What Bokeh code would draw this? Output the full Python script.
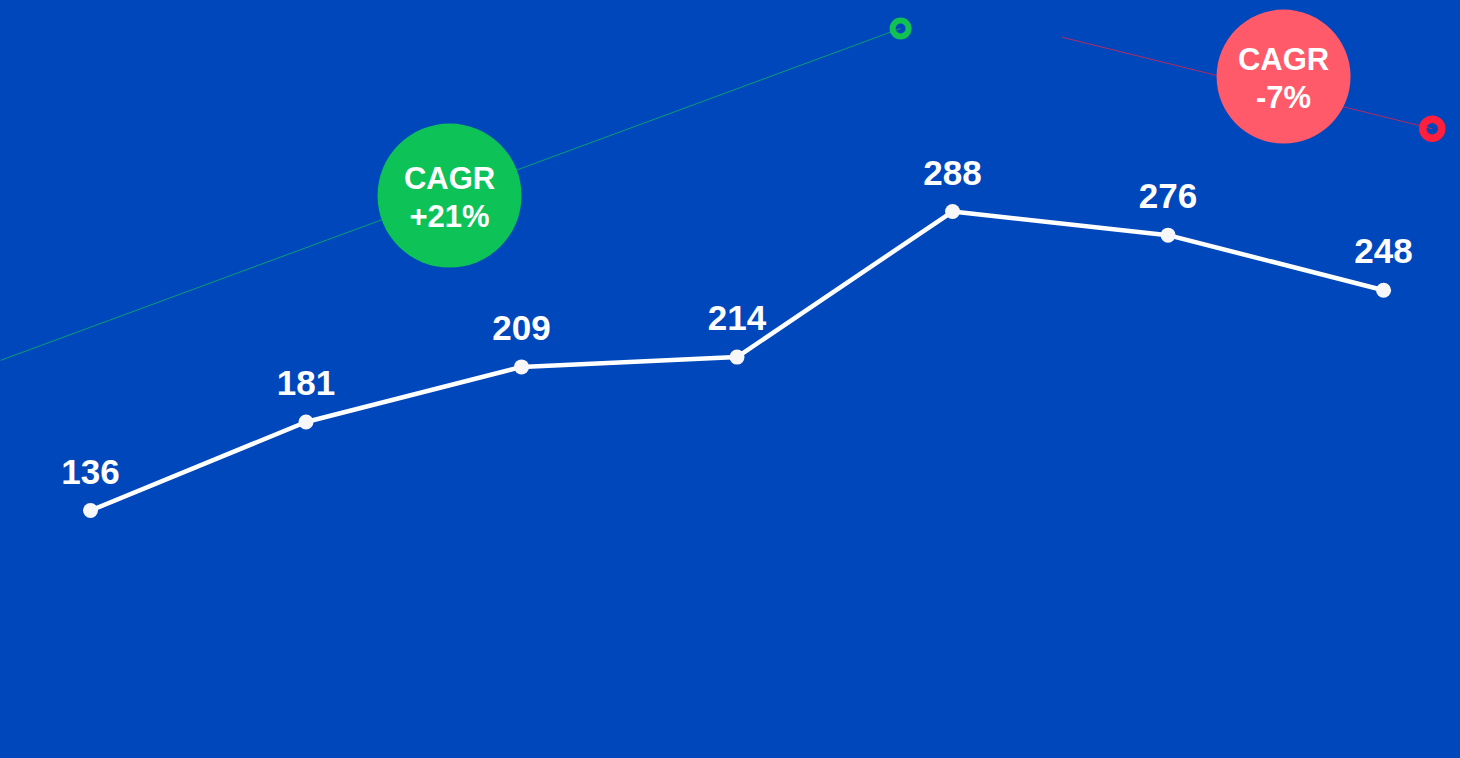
from bokeh.plotting import figure
from bokeh.models import Range1d, ColumnDataSource
from bokeh.core.properties import value
from bokeh.embed import file_html
from bokeh.resources import INLINE

# ---- data ----
periods = [0, 1, 2, 3, 4, 5, 6]
values = [136, 181, 209, 214, 288, 276, 248]
labels = [str(v) for v in values]

# CAGR trend lines (start / end in data coordinates)
green_trend_x = [-0.418, 3.759]
green_trend_y = [212.3, 381.1]
red_trend_x = [4.509, 6.226]
red_trend_y = [376.6, 330.1]

# CAGR badges
badge_x = [1.666, 5.536]
badge_y = [296.1, 356.6]
badge_title = ["CAGR", "CAGR"]
badge_value = ["+21%", "-7%"]

BG = "#0047BB"
GREEN = "#0DC257"
GREEN_RING = "#12C154"
RED = "#FF5A6A"
RED_RING = "#FF1F3D"
FONT = value("Liberation Sans")

p = figure(width=1460, height=758, output_backend="svg", toolbar_location=None,
           x_range=Range1d(-0.4176, 6.357), y_range=Range1d(9.91, 395.3),
           min_border=0, background_fill_color=BG, border_fill_color=BG,
           outline_line_color=None)
p.axis.visible = False
p.grid.visible = False

# trend lines
p.line(green_trend_x, green_trend_y, line_color=GREEN, line_width=1, line_alpha=0.7)
p.line(red_trend_x, red_trend_y, line_color=RED_RING, line_width=1, line_alpha=0.7)

# end rings
p.scatter([green_trend_x[1]], [green_trend_y[1]], size=16, fill_color=None,
          line_color=GREEN_RING, line_width=6)
p.scatter([red_trend_x[1]], [red_trend_y[1]], size=19, fill_color=None,
          line_color=RED_RING, line_width=7.5)

# badges
bsrc = ColumnDataSource(dict(x=badge_x, y=badge_y, t=badge_title, v=badge_value,
                             c=[GREEN, RED], s=[144, 134]))
p.scatter("x", "y", size="s", fill_color="c", line_color=None, source=bsrc)
p.text("x", "y", text="t", source=bsrc, text_font=FONT, text_font_style="bold",
       text_font_size="31px", text_color="white", text_align="center",
       text_baseline="alphabetic", y_offset=-17.5)
p.text("x", "y", text="v", source=bsrc, text_font=FONT, text_font_style="bold",
       text_font_size="31px", text_color="white", text_align="center",
       text_baseline="alphabetic", y_offset=21)

# main series
src = ColumnDataSource(dict(x=periods, y=values, l=labels))
p.line("x", "y", source=src, line_color="white", line_width=4.5)
p.scatter("x", "y", source=src, size=15, fill_color="#F7F7FA", line_color=None)
p.text("x", "y", text="l", source=src, text_font=FONT, text_font_style="bold",
       text_font_size="35px", text_color="white", text_align="center",
       text_baseline="alphabetic", y_offset=-39)

html = file_html(p, INLINE)
html = html.replace("</head>", "<style>html,body{margin:0;background:%s;}</style></head>" % BG, 1)
open("out.html", "w").write(html)
